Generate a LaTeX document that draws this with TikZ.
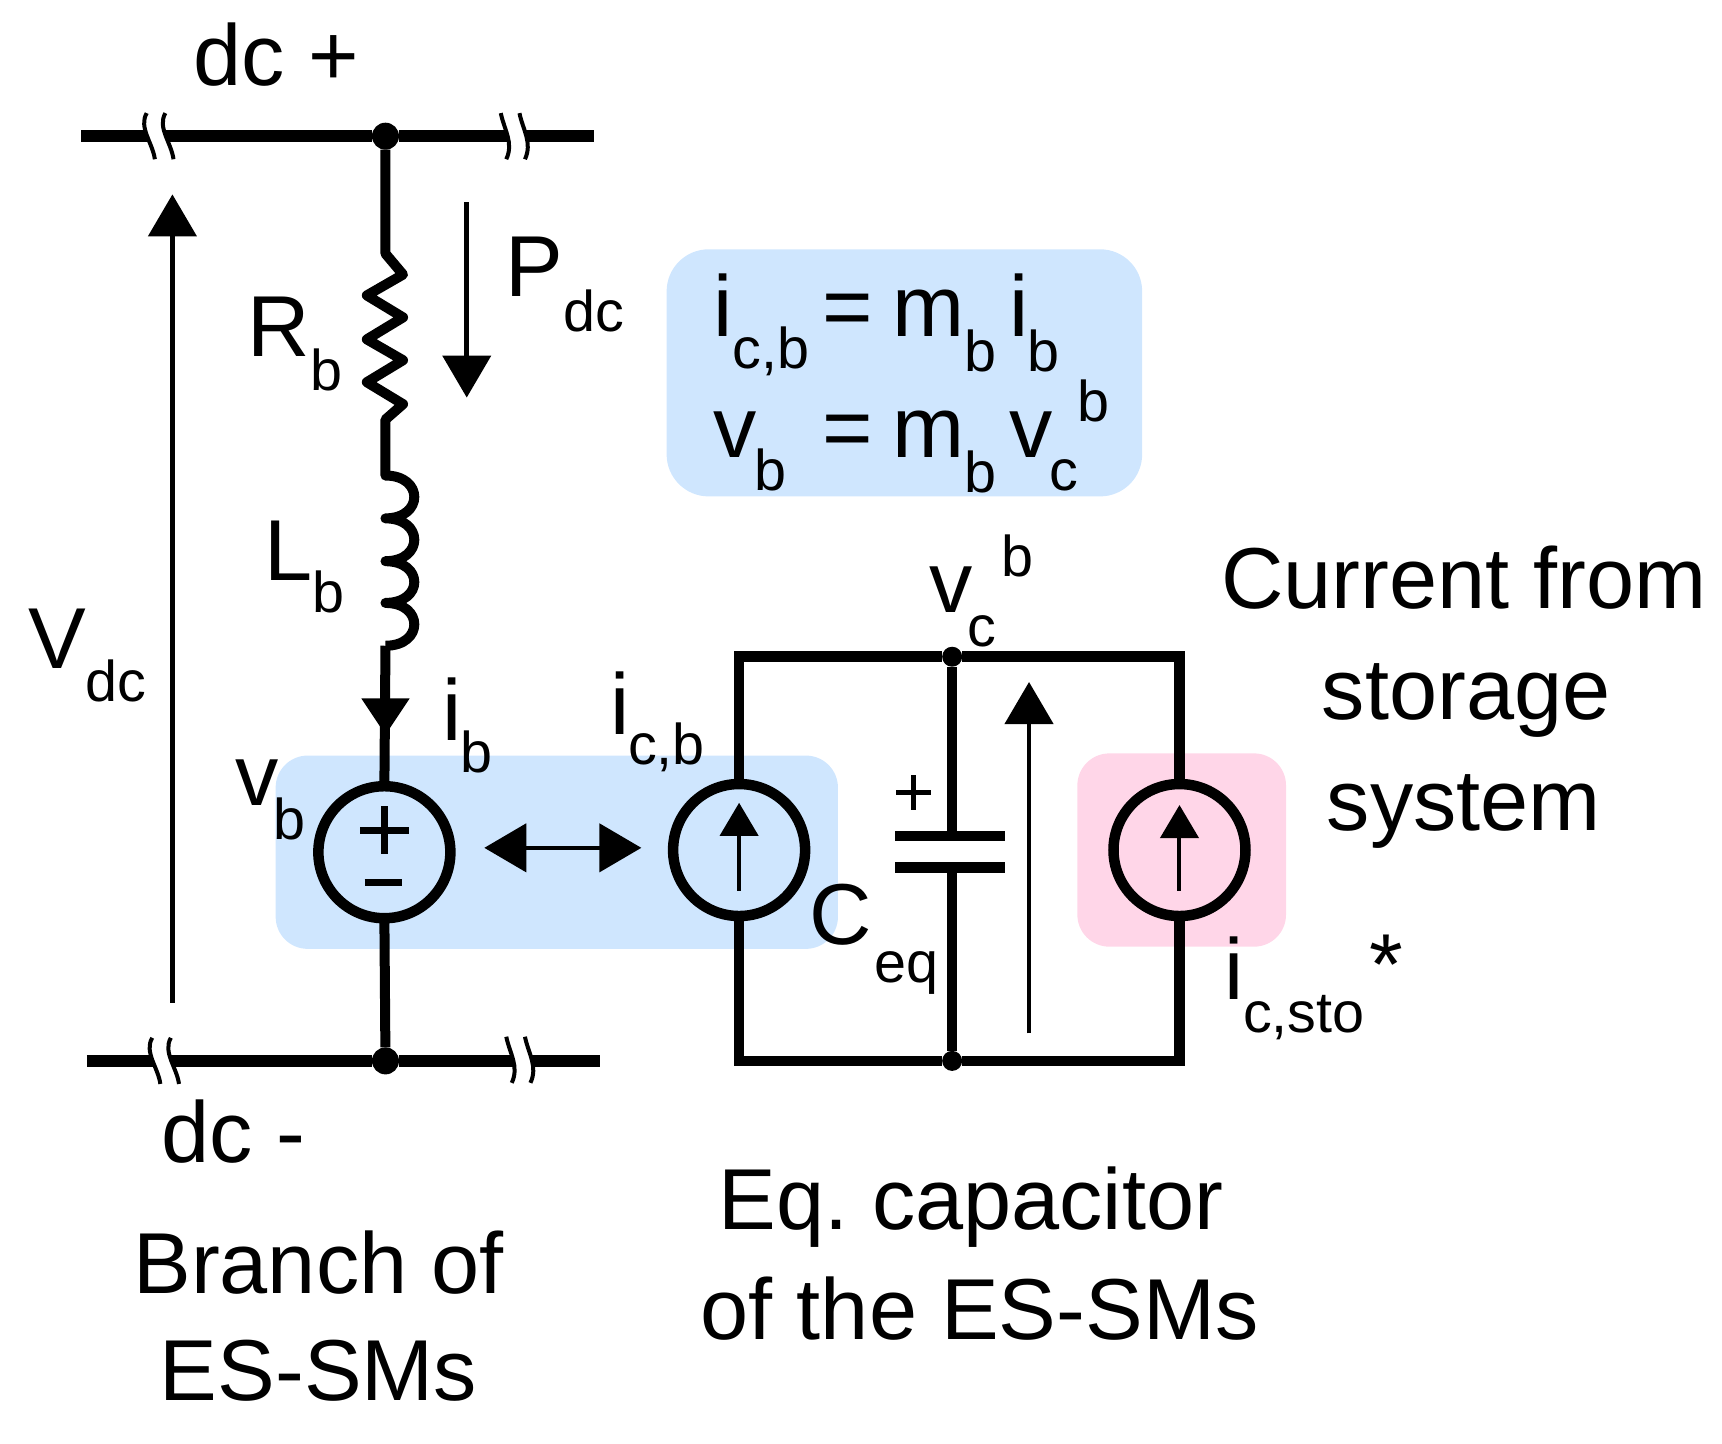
\documentclass[tikz,border=0pt]{standalone}
\usepackage{fontspec}
\setmainfont{Liberation Sans}
\usetikzlibrary{arrows.meta}
\definecolor{boxblue}{HTML}{CFE6FE}
\definecolor{boxpink}{HTML}{FFD6E8}
\tikzset{
  big/.style={font=\fontsize{86.5}{86.5}\selectfont\frenchspacing,inner sep=0pt,outer sep=0pt,anchor=base west,yshift=-2pt},
  bigc/.style={font=\fontsize{86.5}{86.5}\selectfont\frenchspacing,inner sep=0pt,outer sep=0pt,anchor=base,yshift=-2pt},
  sm/.style={font=\fontsize{57.5}{57.5}\selectfont,inner sep=0pt,outer sep=0pt,anchor=base west,yshift=-2pt},
  bus/.style={line width=11.5pt,line cap=butt},
  wire/.style={line width=10.5pt,line cap=butt,line join=miter},
  branch/.style={line width=10pt,line cap=butt,line join=miter},
  src/.style={circle,draw,line width=10.5pt,minimum size=132pt,inner sep=0pt,outer sep=0pt},
  dot/.style={circle,fill=black,inner sep=0pt,outer sep=0pt,minimum size=#1},
  volt/.style={line width=4.5pt,-{Triangle[length=42pt,width=48pt]}},
  inner/.style={line width=4pt,-{Triangle[length=33pt,width=38pt]}},
  both/.style={line width=4.5pt,{Triangle[length=42pt,width=48pt]}-{Triangle[length=42pt,width=48pt]}},
  hood/.style={fill=#1,draw=none}
}
\newcommand{\brkleft}[2]{%
  \begin{scope}[shift={(#1,#2)}]
    \fill[white] (4.6,-21) .. controls (-3,-8) and (8,6) .. (12,21) -- (29,21) .. controls (25,6) and (14,-8) .. (21.6,-21) -- cycle;
    \draw[line width=4pt] (4.6,-21) .. controls (-3,-8) and (10,6) .. (12,21);
    \draw[line width=4pt] (21.6,-21) .. controls (14,-8) and (27,6) .. (29,21);
  \end{scope}}
\newcommand{\brkright}[2]{%
  \begin{scope}[shift={(#1,#2)}]
    \fill[white] (0,-21) .. controls (3,-6) and (12,6) .. (5,21) -- (22,21) .. controls (29,6) and (20,-6) .. (17,-21) -- cycle;
    \draw[line width=4pt] (0,-21) .. controls (3,-6) and (12,6) .. (5,21);
    \draw[line width=4pt] (17,-21) .. controls (20,-6) and (29,6) .. (22,21);
  \end{scope}}
\begin{document}
\begin{tikzpicture}[x=1.0982pt,y=-1.0982pt]
\useasboundingbox (0,0) rectangle (1568,1314);
% highlight boxes
\fill[hood=boxblue,rounded corners=42pt] (607,227) rectangle (1040,452);
\fill[hood=boxblue,rounded corners=32pt] (251,688) rectangle (763,864);
\fill[hood=boxpink,rounded corners=32pt] (981,686) rectangle (1171,862);
% named points
\coordinate (tl) at (74,124);
\coordinate (tr) at (541,124);
\coordinate (bl) at (79,966);
\coordinate (br) at (546,966);
\node[dot=27pt] (jt) at (351,124) {};
\node[dot=27pt] (jb) at (351,966) {};
\node[src] (vs) at (350,776) {};
\node[src] (is) at (673,774) {};
\node[src] (st) at (1074,774) {};
\node[dot=20pt] (jct) at (867,598) {};
\node[dot=20pt] (jcb) at (867,966) {};
\coordinate (rtl) at (673,598);
\coordinate (rtr) at (1074,598);
\coordinate (rbl) at (673,966);
\coordinate (rbr) at (1074,966);
% bus bars
\draw[bus] (tl) -- (jt) -- (tr);
\draw[bus] (bl) -- (jb) -- (br);
\brkleft{129}{124}
\brkright{456}{124}
\brkleft{134}{966}
\brkright{461}{965}
% branch
\coordinate (r0) at (351,231);
\coordinate (r1) at (351,382);
\coordinate (l0) at (351,433);
\coordinate (l1) at (351,588);
\draw[branch,line join=round] (jt) -- (r0)
  -- (367,250) -- (334,269) -- (367,289) -- (334,309) -- (367,328) -- (334,348) -- (367,368)
  -- (r1) -- (l0)
  .. controls (386,433) and (386,472) .. (351,472)
  .. controls (386,472) and (386,511) .. (351,511)
  .. controls (386,511) and (386,549) .. (351,549)
  .. controls (386,549) and (386,588) .. (l1);
\draw[branch] (l1) -- (vs.north);
\coordinate (ibt) at (351,669);
\fill (329,636) -- (373,636) -- (ibt) -- cycle;
\draw[branch] (vs.south) -- (jb);
% source symbols
\coordinate (pc) at (350,756);
\draw[line width=7pt] (328,756) -- (372,756);
\draw[line width=7pt] (pc) ++(0,-22) -- ++(0,44);
\draw[line width=7pt] (332,804) -- (366,804);
\coordinate (da) at (441,772);
\coordinate (db) at (584,772);
\draw[both] (da) -- (db);
\coordinate (isa) at (673,811);
\coordinate (isb) at (673,731);
\draw[inner] (isa) -- (isb);
\coordinate (sta) at (1074,811);
\coordinate (stb) at (1074,733);
\draw[inner] (sta) -- (stb);
% right circuit
\draw[wire] (is.north) -- (rtl) -- (jct) -- (rtr) -- (st.north);
\draw[wire] (is.south) -- (rbl) -- (jcb) -- (rbr) -- (st.south);
\coordinate (c0) at (867,761);
\coordinate (c1) at (867,790);
\draw[wire] (jct) -- (c0);
\draw[wire] (c1) -- (jcb);
\draw[line width=10.5pt] (815,761) -- (915,761);
\draw[line width=10.5pt] (815,790) -- (915,790);
\draw[line width=5pt] (816,722) -- (848,722);
\draw[line width=5pt] (832,706) -- (832,738);
% measurement arrows
\coordinate (va) at (157,913);
\coordinate (vb) at (157,177);
\draw[volt] (va) -- (vb);
\coordinate (pa) at (425,184);
\coordinate (pb) at (425,362);
\draw[volt] (pa) -- (pb);
\coordinate (ca) at (937,941);
\coordinate (cb) at (937,621);
\draw[volt] (ca) -- (cb);
% labels
\node[big] (t1) at (176,76) {dc +};
\node[big] (t2) at (460,268) {P};
\node[sm] (t3) at (513,300) {dc};
\node[big] (t4) at (225,323) {R};
\node[sm] (t5) at (283,354) {b};
\node[big] (t6) at (241,527) {L};
\node[sm] (t7) at (285,556) {b};
\node[big] (t8) at (26,607) {V};
\node[sm] (t9) at (78,637) {dc};
\node[big] (t10) at (403,672) {i};
\node[sm] (t11) at (419,702) {b};
\node[big] (t12) at (214,732) {v};
\node[sm] (t13) at (249,763) {b};
\node[big] (t14) at (556,667) {i};
\node[sm] (t15) at (572,694) {c,b};
\node[big] (t16) at (737,858) {C};
\node[sm] (t17) at (796,893) {eq};
\node[big] (t18) at (846,556) {v};
\node[sm] (t19) at (881,587) {c};
\node[sm] (t20) at (912,523) {b};
\node[bigc] (t21) at (1333,552) {Current from};
\node[bigc] (t22) at (1335,653) {storage};
\node[bigc] (t23) at (1333,754) {system};
\node[big] (t24) at (1115,908) {i};
\node[sm] (t25) at (1132,938) {c,sto};
\node[big] (t26) at (1247,904) {*};
\node[big] (t27) at (147,1057) {dc -};
\node[bigc] (t28) at (290,1176) {Branch of};
\node[bigc] (t29) at (290,1273) {ES-SMs};
\node[bigc] (t30) at (884,1118) {Eq. capacitor};
\node[bigc] (t31) at (892,1218) {of the ES-SMs};
% equations
\node[big] (e1) at (650,305) {i};
\node[sm] (e2) at (667,334) {c,b};
\node[big] (e3) at (749,305) {=};
\node[big] (e4) at (813,305) {m};
\node[sm] (e5) at (878,336) {b};
\node[big] (e6) at (919,305) {i};
\node[sm] (e7) at (936,336) {b};
\node[big] (e8) at (650,415) {v};
\node[sm] (e9) at (687,445) {b};
\node[big] (e10) at (749,415) {=};
\node[big] (e11) at (813,415) {m};
\node[sm] (e12) at (878,447) {b};
\node[big] (e13) at (919,415) {v};
\node[sm] (e14) at (956,445) {c};
\node[sm] (e15) at (981,382) {b};
\end{tikzpicture}
\end{document}
